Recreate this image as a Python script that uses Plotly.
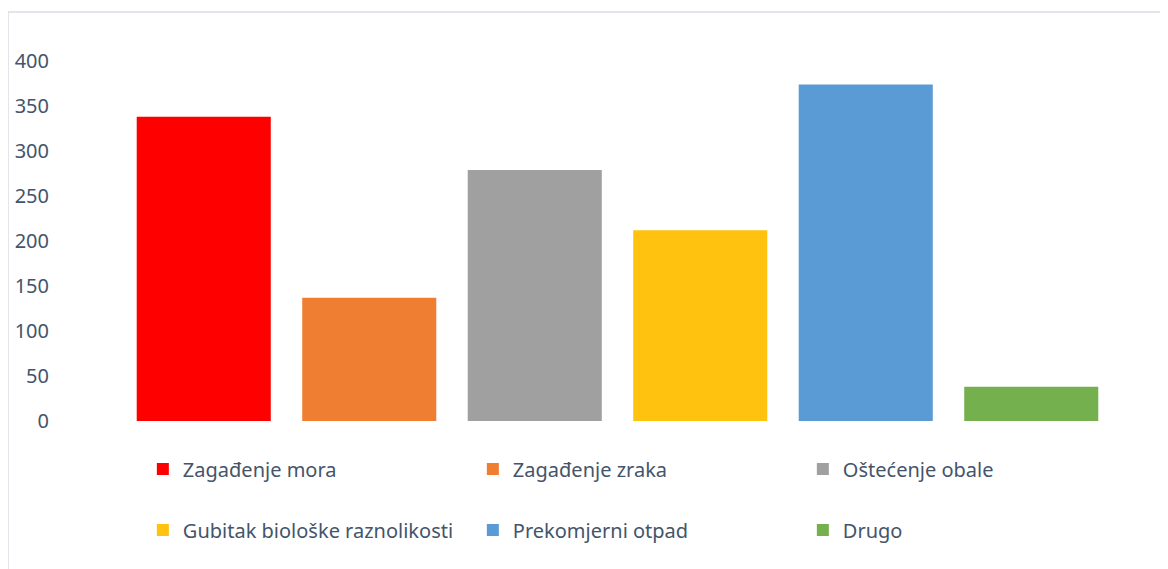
import plotly.graph_objects as go

# values
categories = ["Zagađenje mora", "Zagađenje zraka", "Oštećenje obale",
              "Gubitak biološke raznolikosti", "Prekomjerni otpad", "Drugo"]
values = [338, 137, 279, 212, 374, 38]
colors = ["#FF0000", "#F07E32", "#A0A0A0", "#FFC20E", "#5B9BD5", "#74B04D"]
tick_vals = [0, 50, 100, 150, 200, 250, 300, 350, 400]

text_color = "#44546A"

fig = go.Figure()
for i, (cat, val, col) in enumerate(zip(categories, values, colors)):
    fig.add_trace(go.Bar(
        x=[cat], y=[val], name=cat,
        marker=dict(color=col, line=dict(width=0)),
        legend="legend" if i < 3 else "legend2",
        hoverinfo="x+y",
    ))

# plotly adds ~45px (symbol + gap) to each entry width -> 330px columns
legend_style = dict(
    orientation="h",
    entrywidth=285, entrywidthmode="pixels",
    font=dict(family="Noto Sans", size=20, color=text_color),
    xanchor="left", yanchor="middle",
    bgcolor="rgba(0,0,0,0)",
    itemclick=False, itemdoubleclick=False,
)

# page body has an 8px margin, so the figure is 8px smaller each way
fig.update_layout(
    width=1160, height=561,
    margin=dict(l=113, r=54, t=8, b=148),
    paper_bgcolor="white", plot_bgcolor="white",
    barmode="relative", bargap=0.19,
    showlegend=True,
    legend=dict(x=0.022, y=-0.1185, **legend_style),
    legend2=dict(x=0.022, y=-0.269, **legend_style),
    font=dict(family="Noto Sans", color=text_color),
)

fig.update_xaxes(showticklabels=False, showgrid=False, zeroline=False,
                 showline=False, fixedrange=True)
fig.update_yaxes(range=[0, 450], tickvals=tick_vals, showgrid=False,
                 zeroline=False, showline=False, ticks="",
                 tickfont=dict(family="Noto Sans", size=20, color=text_color),
                 ticklabelstandoff=71, fixedrange=True)

# light frame around the chart area
fig.add_shape(type="rect", xref="paper", yref="paper",
              x0=-0.1138, x1=1.07, y0=-0.45, y1=1.0099,
              line=dict(color="#D9DDE3", width=1.5), layer="below")

fig.write_html("out.html")
